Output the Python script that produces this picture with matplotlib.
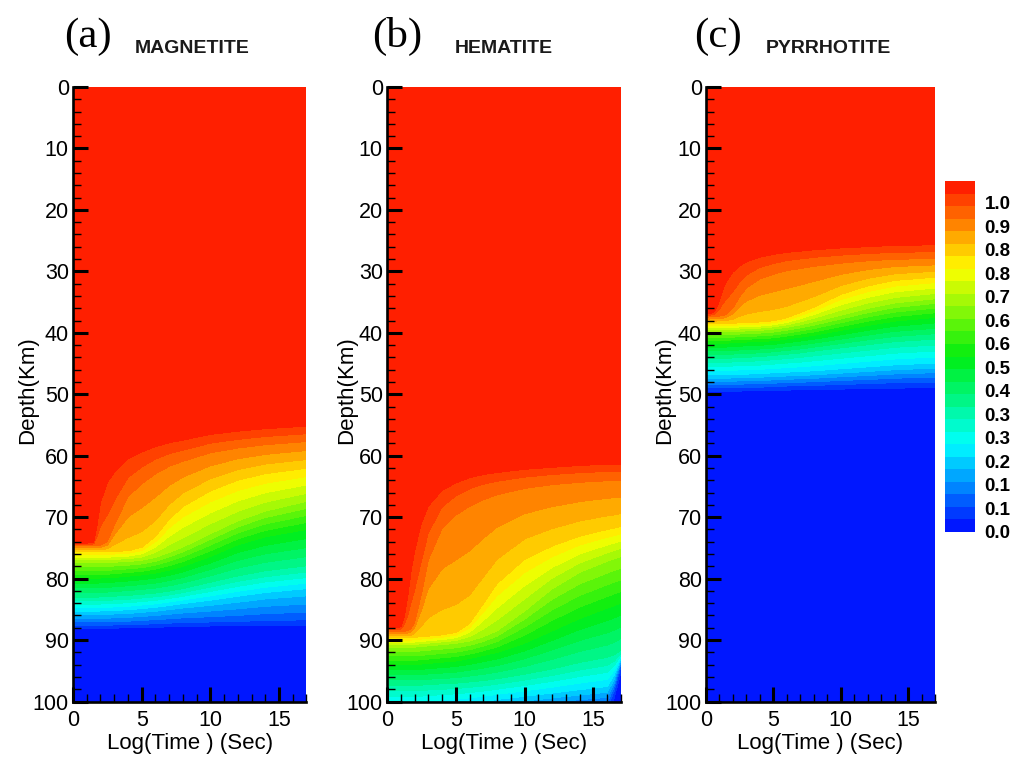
import numpy as np
import matplotlib
matplotlib.use("Agg")
import matplotlib.pyplot as plt
from matplotlib.colors import LinearSegmentedColormap
from matplotlib.ticker import MultipleLocator

plt.rcParams['font.family'] = ['Liberation Sans', 'DejaVu Sans']

# value of each row below: the depth (km) where the field takes that value
row_levels = [0.97, 0.9, 0.8, 0.65, 0.5, 0.35, 0.2, 0.08, 0.02]

# (a) magnetite
mag_time = [0, 1, 1.5, 1.75, 2, 2.5, 3, 4, 5, 6, 7, 8, 10, 12, 14, 17]
mag_depth = [
    [74.2, 74.2, 74.0, 71.0, 67.0, 63.5, 62.0, 60.0, 59.0, 58.2, 57.6, 57.2, 56.3, 55.8, 55.4, 55.0],
    [74.6, 74.6, 74.6, 74.6, 74.5, 73.8, 71.0, 66.0, 63.8, 62.2, 61.1, 60.4, 59.1, 58.4, 57.9, 57.4],
    [75.5, 75.5, 75.5, 75.5, 75.5, 75.5, 75.4, 75.3, 74.7, 72.8, 69.8, 67.6, 65.0, 63.3, 62.3, 61.5],
    [77.3, 77.3, 77.3, 77.3, 77.3, 77.3, 77.2, 77.1, 76.9, 76.4, 75.6, 74.7, 72.5, 70.4, 68.8, 67.2],
    [80.0, 80.0, 80.0, 80.0, 79.9, 79.9, 79.8, 79.6, 79.4, 79.1, 78.6, 78.0, 76.4, 74.5, 73.2, 72.0],
    [83.2, 83.2, 83.2, 83.2, 83.1, 83.1, 83.0, 82.9, 82.7, 82.5, 82.2, 81.8, 80.8, 79.8, 79.0, 78.2],
    [85.5, 85.5, 85.5, 85.5, 85.5, 85.5, 85.4, 85.3, 85.1, 84.9, 84.6, 84.3, 83.8, 83.2, 82.6, 82.0],
    [87.5, 87.5, 87.5, 87.5, 87.5, 87.5, 87.4, 87.4, 87.3, 87.2, 87.1, 87.0, 86.9, 86.8, 86.6, 86.5],
    [88.3, 88.3, 88.3, 88.3, 88.3, 88.3, 88.3, 88.2, 88.2, 88.2, 88.1, 88.1, 88.0, 88.0, 88.0, 88.0],
]

# (b) hematite (rows below 100 km fall outside the plot)
hem_time = [0, 1, 1.25, 1.5, 1.75, 2, 2.5, 3, 4, 5, 6, 7, 8, 10, 12, 14, 16, 16.5, 17]
hem_depth = [
    [88.0, 87.8, 86.0, 82.5, 78.0, 74.5, 70.0, 67.5, 65.2, 64.1, 63.3, 62.8, 62.5, 62.0, 61.7, 61.4, 61.2, 61.2, 61.2],
    [88.5, 88.5, 88.5, 88.4, 88.0, 87.0, 82.0, 76.0, 70.5, 68.2, 66.8, 65.9, 65.3, 64.5, 64.0, 63.7, 63.5, 63.5, 63.5],
    [89.5, 89.5, 89.5, 89.5, 89.5, 89.4, 89.3, 89.2, 89.0, 88.6, 87.0, 83.5, 80.0, 76.0, 74.0, 72.5, 71.5, 71.3, 71.0],
    [91.0, 91.0, 91.0, 91.0, 91.0, 91.0, 90.9, 90.8, 90.6, 90.4, 90.0, 89.3, 88.3, 85.0, 81.3, 78.6, 76.8, 76.4, 76.0],
    [94.0, 94.0, 94.0, 94.0, 94.0, 94.0, 93.9, 93.8, 93.6, 93.4, 93.0, 92.5, 92.0, 90.5, 88.5, 86.5, 84.8, 84.4, 84.0],
    [97.5, 97.5, 97.5, 97.5, 97.5, 97.5, 97.5, 97.4, 97.3, 97.2, 97.0, 96.8, 96.5, 95.8, 95.0, 94.0, 93.2, 92.8, 92.0],
    [101.5, 101.5, 101.5, 101.5, 101.5, 101.4, 101.3, 101.2, 101.0, 100.8, 100.6, 100.3, 100.0, 99.5, 99.0, 98.5, 98.0, 96.0, 93.0],
    [104.0, 104.0, 104.0, 104.0, 104.0, 104.0, 103.9, 103.8, 103.6, 103.4, 103.2, 102.8, 102.5, 101.8, 101.3, 101.0, 100.8, 98.0, 94.0],
    [106.0, 106.0, 106.0, 106.0, 106.0, 106.0, 105.9, 105.8, 105.6, 105.4, 105.2, 104.8, 104.5, 104.0, 103.5, 103.2, 103.0, 100.0, 95.5],
]

# (c) pyrrhotite
pyr_time = [0, 0.5, 0.75, 1, 1.25, 1.5, 2, 2.5, 3, 4, 5, 6, 7, 8, 10, 12, 14, 17]
pyr_depth = [
    [36.9, 36.7, 36.0, 34.5, 32.6, 31.2, 29.6, 28.7, 28.1, 27.4, 27.0, 26.7, 26.5, 26.3, 26.0, 25.8, 25.6, 25.5],
    [37.4, 37.3, 37.3, 37.2, 37.1, 36.9, 35.8, 33.8, 32.3, 30.7, 29.9, 29.3, 29.0, 28.7, 28.3, 28.0, 27.8, 27.7],
    [38.3, 38.3, 38.3, 38.3, 38.3, 38.3, 38.3, 38.25, 38.2, 38.1, 37.9, 37.4, 36.5, 35.6, 33.4, 32.0, 31.1, 30.6],
    [39.7, 39.7, 39.7, 39.7, 39.7, 39.7, 39.7, 39.65, 39.6, 39.5, 39.3, 39.0, 38.6, 38.1, 37.0, 35.9, 35.0, 34.3],
    [41.7, 41.7, 41.7, 41.7, 41.7, 41.7, 41.6, 41.55, 41.5, 41.4, 41.3, 41.0, 40.7, 40.4, 39.6, 38.8, 38.1, 37.5],
    [44.3, 44.3, 44.3, 44.3, 44.3, 44.3, 44.2, 44.15, 44.1, 44.0, 43.8, 43.6, 43.4, 43.1, 42.6, 42.1, 41.6, 41.2],
    [47.1, 47.1, 47.1, 47.1, 47.1, 47.1, 47.0, 47.0, 47.0, 46.9, 46.8, 46.7, 46.6, 46.5, 46.2, 45.9, 45.6, 45.3],
    [48.8, 48.8, 48.8, 48.8, 48.8, 48.8, 48.8, 48.75, 48.7, 48.7, 48.6, 48.5, 48.45, 48.4, 48.2, 48.1, 47.9, 47.8],
    [49.8, 49.8, 49.8, 49.8, 49.8, 49.8, 49.8, 49.75, 49.7, 49.7, 49.7, 49.6, 49.6, 49.6, 49.5, 49.4, 49.4, 49.3],
]

panel_tags = ['(a)', '(b)', '(c)']
panel_names = ['MAGNETITE', 'HEMATITE', 'PYRRHOTITE']
cbar_labels = ['0.0', '0.1', '0.1', '0.2', '0.3', '0.3', '0.4', '0.5',
               '0.6', '0.6', '0.7', '0.8', '0.8', '0.9', '1.0']

W, H = 1012, 768


def fx(px):
    return px / W


def fy(py):
    return 1 - py / H


def make_grid(times, depths):
    t = np.asarray(times, float)
    d = np.asarray(depths, float)
    X = np.tile(t, (len(row_levels) + 2, 1))
    Y = np.vstack([np.zeros_like(t), d, np.full_like(t, 110.0)])
    z = np.r_[1.0, row_levels, 0.0]
    Z = np.repeat(z[:, None], len(t), axis=1)
    return X, Y, Z


cmap = LinearSegmentedColormap.from_list(
    'tec', [(0.0, '#0008FF'), (0.25, '#00FFFF'), (0.5, '#00EE10'),
            (0.75, '#FFFF00'), (1.0, '#FF1000')])
levels = np.linspace(0, 1, 29)

fig = plt.figure(figsize=(W / 100, H / 100), dpi=100)

# pixel layout: left, right of each panel; tag x, name x, ylabel x
layout = [(73, 306.5, 64, 135, 28), (387, 621, 372, 455, 347), (706, 935, 694, 766, 665)]
top, bottom = 87, 701.5

data = [(mag_time, mag_depth), (hem_time, hem_depth), (pyr_time, pyr_depth)]
for i, (times, depths) in enumerate(data):
    l, r, tagx, namex, ylx = layout[i]
    ax = fig.add_axes([fx(l), fy(bottom), fx(r - l), (bottom - top) / H])
    X, Y, Z = make_grid(times, depths)
    cf = ax.contourf(X, Y, Z, levels=levels, cmap=cmap, antialiased=False)
    ax.set_xlim(0, 17)
    ax.set_ylim(100, 0)
    for s in ['top', 'right']:
        ax.spines[s].set_visible(False)
    for s in ['left', 'bottom']:
        ax.spines[s].set_linewidth(1.9)
        ax.spines[s].set_zorder(5)
    ax.xaxis.set_major_locator(MultipleLocator(5))
    ax.xaxis.set_minor_locator(MultipleLocator(1))
    ax.yaxis.set_major_locator(MultipleLocator(10))
    ax.yaxis.set_minor_locator(MultipleLocator(2))
    ax.tick_params(which='major', direction='in', length=11, width=2.2,
                   labelsize=15.5, pad=3)
    ax.tick_params(which='minor', direction='in', length=6, width=1.0)
    ax.tick_params(axis='x', which='major', pad=6)
    ax.set_xticks([0, 5, 10, 15])

    fig.text(fx(tagx), fy(47), panel_tags[i], family='Liberation Serif',
             fontsize=31, ha='left', va='baseline')
    fig.text(fx(namex), fy(53), panel_names[i], fontsize=14, fontweight='bold',
             ha='left', va='baseline', color='#1a1a1a')
    fig.text(fx(ylx), fy(390), 'Depth(Km)', rotation=90, fontsize=16,
             ha='center', va='center')
    fig.text(fx((l + r) / 2), fy(743), 'Log(Time ) (Sec)', fontsize=16,
             ha='center', va='center')

cax = fig.add_axes([fx(945), fy(532), fx(30), 351 / H])
cb = fig.colorbar(cf, cax=cax)
cb.outline.set_visible(False)
cb.set_ticks(np.linspace(0, 0.938, 15))
cb.set_ticklabels(cbar_labels)
cax.tick_params(length=0, labelsize=13.5, pad=7)
for t in cax.get_yticklabels():
    t.set_fontweight('bold')

fig.savefig('out.png', dpi=100)
